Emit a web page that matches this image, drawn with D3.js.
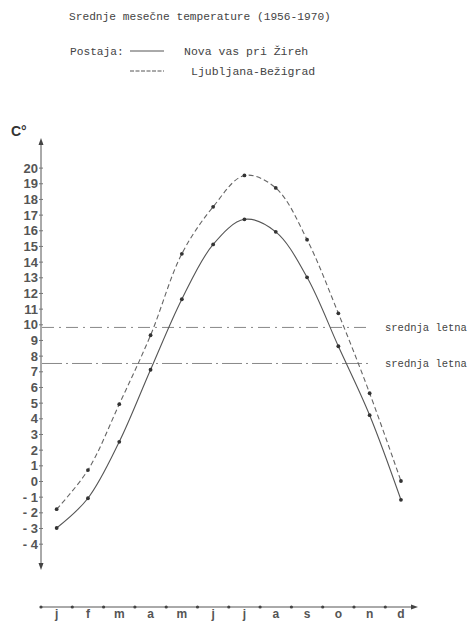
<!DOCTYPE html>
<html><head><meta charset="utf-8">
<script src="https://cdn.jsdelivr.net/npm/d3@7"></script>
<style>body{margin:0;background:#fff}svg{display:block}</style>
</head><body>
<script>
const months = ["j","f","m","a","m","j","j","a","s","o","n","d"];
const novaVas = [-3.0,-1.1,2.5,7.1,11.6,15.1,16.7,15.9,13.0,8.6,4.2,-1.2];
const ljubljana = [-1.8,0.7,4.9,9.3,14.5,17.5,19.5,18.7,15.4,10.7,5.6,0.0];
const annualMeans = [9.8, 7.5];
const meanLabels = ["srednja letna","srednja letna"];
const yTickValues = d3.range(-4, 21);
const titleText = "Srednje mesečne temperature (1956-1970)";
const legendTitle = "Postaja:";
const seriesNames = ["Nova vas pri Žireh","Ljubljana-Bežigrad"];

const W=472,H=622;
const svg=d3.select("body").append("svg").attr("width",W).attr("height",H);
const mono="'Liberation Mono','DejaVu Sans Mono',monospace";
const sans="'Liberation Sans',Arial,sans-serif";

const x=d3.scaleBand().domain(d3.range(12)).range([41,416.6]).padding(0);
const y=d3.scaleLinear().domain([0,20]).range([481,167.6]);
const xc=i=>x(i)+x.bandwidth()/2;

// title & legend
svg.append("text").attr("x",69).attr("y",20).attr("font-family",mono).attr("font-size",11.2)
  .attr("fill","#444").text(titleText);
svg.append("text").attr("x",70).attr("y",55).attr("font-family",mono).attr("font-size",11.2)
  .attr("fill","#444").text(legendTitle);
svg.append("line").attr("x1",130).attr("x2",164).attr("y1",51).attr("y2",51).attr("stroke","#555").attr("stroke-width",1);
svg.append("line").attr("x1",130).attr("x2",164).attr("y1",71).attr("y2",71).attr("stroke","#555").attr("stroke-width",1).attr("stroke-dasharray","4,1.5");
svg.append("text").attr("x",184).attr("y",55).attr("font-family",mono).attr("font-size",11.5).attr("fill","#444").text(seriesNames[0]);
svg.append("text").attr("x",191).attr("y",75).attr("font-family",mono).attr("font-size",11.5).attr("fill","#444").text(seriesNames[1]);

// y axis
const yTop=138,yBot=570;
svg.append("line").attr("x1",41).attr("x2",41).attr("y1",yTop+4).attr("y2",yBot-4).attr("stroke","#555");
svg.append("path").attr("d",`M41,${yTop} L38.5,${yTop+7} L43.5,${yTop+7}Z`).attr("fill","#444");
svg.append("path").attr("d",`M41,${yBot} L38.5,${yBot-7} L43.5,${yBot-7}Z`).attr("fill","#444");
const yAxis=d3.axisLeft(y).tickValues(yTickValues).tickSize(0).tickPadding(0)
  .tickFormat(d=>d<0?"- "+(-d):d);
const gy=svg.append("g").attr("transform","translate(41,0)").call(yAxis);
gy.select(".domain").remove();
gy.selectAll(".tick line").remove();
gy.selectAll(".tick").append("line").attr("x1",-2).attr("x2",2).attr("stroke","#777");
gy.selectAll(".tick text").attr("x",-3).attr("font-family",sans).attr("font-weight","bold")
  .attr("font-size",13).attr("fill","#555").attr("dy","0.35em");
svg.append("text").attr("x",11).attr("y",136).attr("font-family",sans).attr("font-weight","bold")
  .attr("font-size",14).attr("fill","#333").text("C°");

// x axis
const xAxisY=607;
svg.append("line").attr("x1",41).attr("x2",412).attr("y1",xAxisY).attr("y2",xAxisY).attr("stroke","#555");
svg.append("path").attr("d",`M418,${xAxisY} L411,${xAxisY-2.5} L411,${xAxisY+2.5}Z`).attr("fill","#444");
svg.selectAll("circle.xt").data(d3.range(12)).join("circle").attr("class","xt")
  .attr("cx",i=>x(i)).attr("cy",xAxisY).attr("r",1.6).attr("fill","#444");
svg.selectAll("text.xl").data(months).join("text").attr("class","xl")
  .attr("x",(d,i)=>xc(i)).attr("y",618).attr("text-anchor","middle")
  .attr("font-family",sans).attr("font-weight","bold").attr("font-size",12).attr("fill","#555").text(d=>d);

// mean lines
const meanDash=["12,5,2,5","20,4,2,4"];
annualMeans.forEach((m,k)=>{
  svg.append("line").attr("x1",42).attr("x2",370).attr("y1",y(m)).attr("y2",y(m))
    .attr("stroke","#888").attr("stroke-width",1).attr("stroke-dasharray",meanDash[k]);
  svg.append("text").attr("x",385).attr("y",y(m)+3.5).attr("font-family",mono).attr("font-size",10.5)
    .attr("fill","#444").text(meanLabels[k]);
});

// curves
const line=d3.line().x((d,i)=>xc(i)).y(d=>y(d)).curve(d3.curveCatmullRom.alpha(0.5));
svg.append("path").datum(novaVas).attr("d",line).attr("fill","none").attr("stroke","#555").attr("stroke-width",1.1);
svg.append("path").datum(ljubljana).attr("d",line).attr("fill","none").attr("stroke","#666").attr("stroke-width",1.1).attr("stroke-dasharray","5,3");
[novaVas,ljubljana].forEach(s=>{
  svg.append("g").selectAll("circle").data(s).join("circle")
    .attr("cx",(d,i)=>xc(i)).attr("cy",d=>y(d)).attr("r",1.9).attr("fill","#333");
});
</script>
</body></html>
